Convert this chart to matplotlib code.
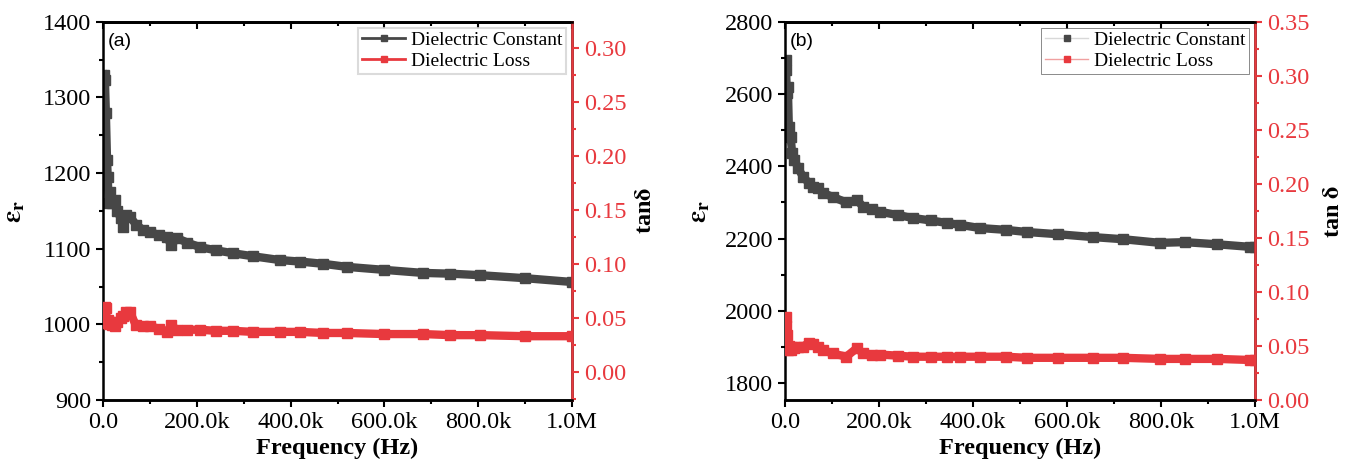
import numpy as np
import matplotlib.pyplot as plt
from matplotlib.lines import Line2D
from matplotlib.ticker import MultipleLocator, FixedLocator, FixedFormatter

plt.rcParams['font.family'] = 'Liberation Serif'
plt.rcParams['mathtext.fontset'] = 'stix'

# values
freq_a = [1e3, 4e3, 6e3, 8.5e3, 10e3, 12e3, 15e3, 20e3, 25e3, 30e3, 38e3, 43e3, 50e3, 58e3,
          70e3, 85e3, 100e3, 120e3, 136e3, 145e3, 158e3, 180e3, 207e3, 240e3, 277e3, 320e3,
          377e3, 420e3, 470e3, 520e3, 600e3, 682e3, 740e3, 804e3, 900e3, 1e6]
eps_a = [1330, 1323, 1280, 1217, 1195, 1160, 1175, 1160, 1165, 1150, 1140, 1129, 1145, 1142,
         1132, 1125, 1122, 1118, 1116, 1105, 1114, 1108, 1102, 1098, 1094, 1090, 1085, 1083,
         1080, 1076, 1072, 1068, 1067, 1065, 1061, 1056]
tan_a = [0.058, 0.060, 0.059, 0.045, 0.048, 0.044, 0.046, 0.043, 0.042, 0.046, 0.050, 0.052,
         0.055, 0.055, 0.043, 0.042, 0.042, 0.040, 0.037, 0.043, 0.039, 0.039, 0.039, 0.038,
         0.038, 0.037, 0.037, 0.037, 0.036, 0.036, 0.035, 0.035, 0.034, 0.034, 0.033, 0.033]

freq_b = [1e3, 2e3, 4e3, 6e3, 8e3, 12e3, 15e3, 20e3, 28e3, 38e3, 50e3, 60e3, 70e3, 81e3,
          102e3, 130e3, 153e3, 166e3, 185e3, 202e3, 240e3, 272e3, 310e3, 345e3, 372e3, 415e3,
          470e3, 515e3, 580e3, 655e3, 720e3, 798e3, 850e3, 920e3, 989e3, 1e6]
eps_b = [2695, 2667, 2603, 2620, 2510, 2480, 2437, 2418, 2395, 2371, 2355, 2343, 2340, 2326,
         2315, 2300, 2307, 2288, 2282, 2274, 2265, 2257, 2250, 2243, 2238, 2229, 2224, 2218,
         2212, 2204, 2198, 2188, 2190, 2184, 2177, 2177]
tan_b = [0.077, 0.068, 0.060, 0.046, 0.050, 0.046, 0.049, 0.048, 0.049, 0.049, 0.053, 0.052,
         0.049, 0.046, 0.043, 0.040, 0.048, 0.043, 0.042, 0.042, 0.041, 0.040, 0.040, 0.040,
         0.040, 0.040, 0.040, 0.039, 0.039, 0.039, 0.039, 0.038, 0.038, 0.038, 0.037, 0.037]

xticks = [0, 200e3, 400e3, 600e3, 800e3, 1e6]
xticklabels = ['0.0', '200.0k', '400.0k', '600.0k', '800.0k', '1.0M']

gray = '#474747'
red = '#e8393e'

fig = plt.figure(figsize=(13.54, 4.75), dpi=100)
ax_a = fig.add_axes([0.0761, 0.158, 0.3464, 0.796])
ax_b = fig.add_axes([0.5798, 0.158, 0.3471, 0.796])

panels = [
    (ax_a, freq_a, eps_a, tan_a, (900, 1400), 100, (-0.026, 0.324), 0.30, '(a)', r'tan$\mathbf{\delta}$',
     -0.162, 1.134, 'lightgray', 1.5),
    (ax_b, freq_b, eps_b, tan_b, (1753, 2800), 200, (0, 0.35), 0.35, '(b)', r'tan $\mathbf{\delta}$',
     -0.155, 1.145, '#555555', 0.6),
]

for ax, f, eps, tan, ylim, ystep, rlim, rmax, tag, rlabel, lx, rx, legedge, leglw in panels:
    ax2 = ax.twinx()
    ax.plot(f, eps, color=gray, lw=6, marker='s', ms=7, solid_joinstyle='round')
    ax2.plot(f, tan, color=red, lw=6, marker='s', ms=7, solid_joinstyle='round')

    ax.set_xlim(0, 1e6)
    ax.set_ylim(*ylim)
    ax2.set_ylim(*rlim)
    ax.xaxis.set_major_locator(FixedLocator(xticks))
    ax.xaxis.set_major_formatter(FixedFormatter(xticklabels))
    ax.xaxis.set_minor_locator(MultipleLocator(100e3))
    ax.yaxis.set_major_locator(MultipleLocator(ystep))
    ax.yaxis.set_minor_locator(MultipleLocator(ystep / 2))
    ax2.yaxis.set_major_locator(FixedLocator(np.arange(0, rmax + 0.001, 0.05)))
    ax2.yaxis.set_minor_locator(MultipleLocator(0.025))
    ax2.yaxis.set_major_formatter(plt.FuncFormatter(lambda v, p: '%.2f' % v))

    ax.tick_params(which='both', direction='out', labelsize=17.5, width=1.5, colors='black')
    ax.tick_params(which='major', length=5)
    ax.tick_params(which='minor', length=3)
    ax2.tick_params(which='both', direction='out', labelsize=17.5, width=1.5, colors=red)
    ax2.tick_params(which='major', length=5)
    ax2.tick_params(which='minor', length=3)

    top = ax.secondary_xaxis('top')
    top.set_xticks(xticks)
    top.xaxis.set_minor_locator(MultipleLocator(100e3))
    top.tick_params(which='both', direction='in', labeltop=False, width=1.5)
    top.tick_params(which='major', length=5)
    top.tick_params(which='minor', length=3)

    for s in ax.spines.values():
        s.set_linewidth(1.8)
    for s in ax2.spines.values():
        s.set_linewidth(1.8)
    top.spines['top'].set_linewidth(1.8)
    ax2.spines['right'].set_color(red)
    ax2.spines['left'].set_visible(False)

    ax.set_xlabel('Frequency (Hz)', fontsize=17.5, fontweight='bold', labelpad=4)
    ax.set_ylabel(r'$\mathbf{\varepsilon_r}$', fontsize=20)
    ax.yaxis.set_label_coords(lx, 0.5)
    ax2.set_ylabel(rlabel, fontsize=17.5, fontweight='bold')
    ax2.yaxis.set_label_coords(rx, 0.5)

    ax.text(0.01, 0.935, tag, transform=ax.transAxes, fontsize=14, family='Liberation Sans')

    if tag == '(a)':
        h1 = Line2D([], [], color=gray, lw=2, marker='s', ms=5)
        h2 = Line2D([], [], color=red, lw=2, marker='s', ms=5)
    else:
        h1 = Line2D([], [], color='#d8d8d8', lw=1, marker='s', ms=5, mfc=gray, mec=gray)
        h2 = Line2D([], [], color='#f0a0a0', lw=1, marker='s', ms=5, mfc=red, mec=red)
    leg = ax2.legend([h1, h2], ['Dielectric Constant', 'Dielectric Loss'], loc='upper right',
                     fontsize=14, frameon=True, fancybox=False, borderaxespad=0.3,
                     handlelength=2.2, handletextpad=0.3, labelspacing=0.15, borderpad=0.2)
    leg.get_frame().set_edgecolor(legedge)
    leg.get_frame().set_linewidth(leglw)

plt.savefig('out.png', dpi=100)
